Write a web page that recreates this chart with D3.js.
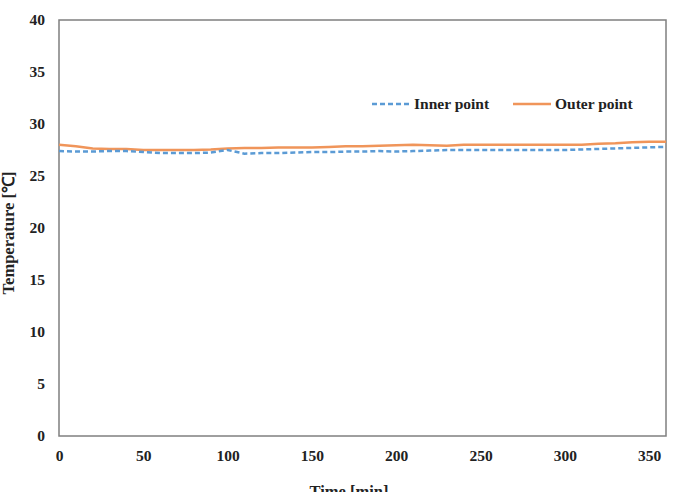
<!DOCTYPE html>
<html lang="en">
<head>
<meta charset="UTF-8">
<title>Temperature</title>
<script src="https://cdn.jsdelivr.net/npm/d3@7/dist/d3.min.js"></script>
<style>
  body { margin: 0; background: #fff; }
  text { font-family: "Liberation Serif", "Times New Roman", serif; font-weight: bold; fill: #222; }
</style>
</head>
<body>
<script>
  // time in minutes
  var times = [0, 10, 20, 30, 40, 50, 60, 70, 80, 90, 100, 110, 120, 130, 140, 150, 160, 170, 180,
    190, 200, 210, 220, 230, 240, 250, 260, 270, 280, 290, 300, 310, 320, 330, 340, 350, 360];

  var innerPoint = [27.4, 27.35, 27.35, 27.4, 27.4, 27.3, 27.2, 27.2, 27.2, 27.25, 27.5, 27.15, 27.2,
    27.2, 27.25, 27.3, 27.3, 27.35, 27.35, 27.4, 27.35, 27.4, 27.45, 27.5, 27.5, 27.5, 27.5, 27.5,
    27.5, 27.5, 27.5, 27.55, 27.6, 27.65, 27.7, 27.75, 27.8];

  var outerPoint = [28.0, 27.85, 27.65, 27.6, 27.6, 27.5, 27.5, 27.5, 27.5, 27.55, 27.65, 27.7, 27.7,
    27.75, 27.75, 27.75, 27.8, 27.85, 27.85, 27.9, 27.95, 28.0, 27.95, 27.9, 28.0, 28.0, 28.0, 28.0,
    28.0, 28.0, 28.0, 28.0, 28.1, 28.15, 28.25, 28.3, 28.3];

  var xTicks = [0, 50, 100, 150, 200, 250, 300, 350];
  var yTicks = [0, 5, 10, 15, 20, 25, 30, 35, 40];

  drawChart();

  function drawChart() {
    var width = 676, height = 492;
    var m = {left: 59, right: 666, top: 20, bottom: 436};
    var fs = 15.5;

    var svg = d3.select("body").append("svg")
      .attr("width", width)
      .attr("height", height);

    var x = d3.scaleLinear().domain([0, 360]).range([m.left, m.right]);
    var y = d3.scaleLinear().domain([0, 40]).range([m.bottom, m.top]);

    // frame
    svg.append("rect")
      .attr("x", m.left).attr("y", m.top)
      .attr("width", m.right - m.left).attr("height", m.bottom - m.top)
      .attr("fill", "none")
      .attr("stroke", "#7f7f7f")
      .attr("stroke-width", 1.5);

    var xAxis = svg.append("g")
      .attr("transform", "translate(0," + m.bottom + ")")
      .call(d3.axisBottom(x).tickValues(xTicks).tickSize(0).tickPadding(14));
    xAxis.select(".domain").remove();
    xAxis.attr("font-family", null).attr("font-size", fs);

    var yAxis = svg.append("g")
      .attr("transform", "translate(" + m.left + ",0)")
      .call(d3.axisLeft(y).tickValues(yTicks).tickSize(0).tickPadding(14));
    yAxis.select(".domain").remove();
    yAxis.attr("font-family", null).attr("font-size", fs);

    var line = d3.line()
      .x(function (d, i) { return x(times[i]); })
      .y(function (d) { return y(d); });

    svg.append("path")
      .attr("d", line(outerPoint))
      .attr("fill", "none")
      .attr("stroke", "#f0955a")
      .attr("stroke-width", 2.5);

    svg.append("path")
      .attr("d", line(innerPoint))
      .attr("fill", "none")
      .attr("stroke", "#5b9bd5")
      .attr("stroke-width", 2.5)
      .attr("stroke-dasharray", "5,3");

    // legend
    var legend = [
      {name: "Inner point", color: "#5b9bd5", dash: "5,3", x: 372},
      {name: "Outer point", color: "#f0955a", dash: null, x: 513}
    ];
    var ly = 104;
    legend.forEach(function (d) {
      svg.append("line")
        .attr("x1", d.x).attr("x2", d.x + 38)
        .attr("y1", ly).attr("y2", ly)
        .attr("stroke", d.color)
        .attr("stroke-width", 2.5)
        .attr("stroke-dasharray", d.dash);
      svg.append("text")
        .attr("x", d.x + 42).attr("y", ly + 5)
        .attr("font-size", fs)
        .text(d.name);
    });

    // axis titles
    svg.append("text")
      .attr("x", 349)
      .attr("y", 497)
      .attr("text-anchor", "middle")
      .attr("font-size", 16.5)
      .text("Time [min]");

    svg.append("text")
      .attr("transform", "translate(14,233) rotate(-90)")
      .attr("text-anchor", "middle")
      .attr("font-size", 16.5)
      .text("Temperature [℃]");
  }
</script>
</body>
</html>
